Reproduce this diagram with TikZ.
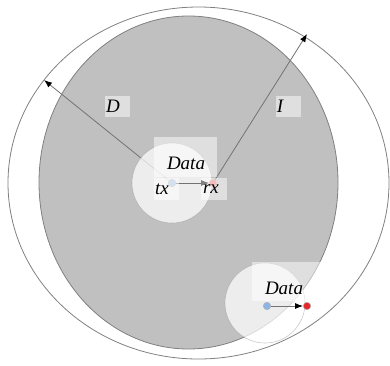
\documentclass[tikz,border=0pt]{standalone}
\usepackage{fontspec}
\setmainfont{Liberation Serif}
\usetikzlibrary{arrows.meta}
\definecolor{zonegray}{HTML}{C0C0C0}
\definecolor{rimgray}{HTML}{808080}
\definecolor{txblue}{HTML}{A8C4E8}
\definecolor{rxpink}{HTML}{F07878}
\definecolor{txblue2}{HTML}{8CB4E4}
\definecolor{rxred2}{HTML}{E62828}
\pgfdeclarelayer{bg}
\pgfsetlayers{bg,main}
\begin{document}
\begin{tikzpicture}[x=1pt,y=-1pt,
  rim/.style={draw=rimgray, line width=0.8pt},
  vec/.style={draw=black!55, line width=0.8pt, -{Latex[length=8pt,width=6pt,color=black]}},
  cell/.style={circle, minimum size=80pt, inner sep=0pt, fill=white, fill opacity=0.72, draw=black!40, draw opacity=0.5, line width=0.6pt},
  tag/.style={fill=white, fill opacity=0.5},
  lbl/.style={font=\fontsize{19}{21}\selectfont\itshape, inner sep=0pt},
  dot/.style={circle, minimum size=7.5pt, inner sep=0pt, draw=black!30, line width=0.5pt},
]
\useasboundingbox (0,0) rectangle (390,365);
% dots
\node[dot, fill=txblue] (tx) at (172,183) {};
\node[dot, fill=rxpink] (rx) at (213,183) {};
\node[dot, fill=txblue2] (tx2) at (267,306) {};
\node[dot, fill=rxred2] (rx2) at (307,306) {};
\coordinate (dEnd) at (44,80);
\coordinate (iEnd) at (307,34);
\begin{pgfonlayer}{bg}
  \fill[zonegray] (188.5,182.5) ellipse [x radius=149.5pt, y radius=166.5pt];
  \draw[rim] (188.5,182.5) ellipse [x radius=149.5pt, y radius=166.5pt];
  \draw[rim] (198.5,183) ellipse [x radius=190.5pt, y radius=176pt];
  \draw[vec] (tx.center) -- (dEnd);
  \draw[vec] (rx.center) -- (iEnd);
  \node[cell] (c1) at (172,183) {};
  \node[cell] (c2) at (265,303) {};
\end{pgfonlayer}
% data arrows
\draw[vec] (tx) -- (rx);
\draw[vec] (tx2) -- (rx2);
% label backgrounds
\fill[tag] (154,137) rectangle (217,177);
\fill[tag] (154,178) rectangle (179,200);
\fill[tag] (201,178) rectangle (227,200);
\fill[tag] (105,96) rectangle (130,117);
\fill[tag] (276,96) rectangle (301,117);
\fill[tag] (252,262) rectangle (321,301);
% labels
\node[lbl] (data1) at (186,163) {Data};
\node[lbl] (txl) at (162,189) {tx};
\node[lbl] (rxl) at (211,189) {rx};
\node[lbl] (dl) at (113,106) {D};
\node[lbl] (il) at (280,106) {I};
\node[lbl] (data2) at (284,288) {Data};
\end{tikzpicture}
\end{document}
